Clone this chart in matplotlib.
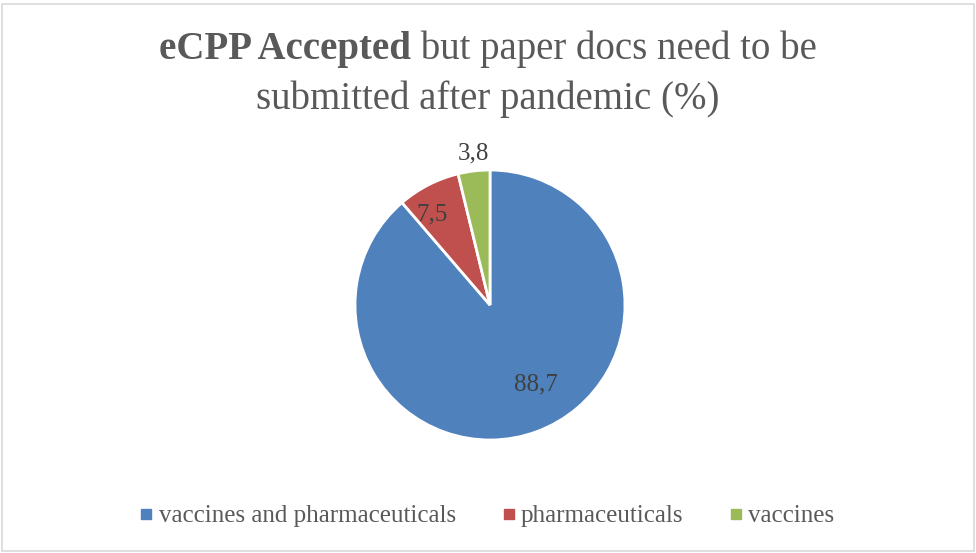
import numpy as np
import matplotlib.pyplot as plt
from matplotlib.lines import Line2D
from matplotlib.patches import Rectangle

# ---------- data ----------
categories = ["vaccines and pharmaceuticals", "pharmaceuticals", "vaccines"]
values = [88.7, 7.5, 3.8]
value_labels = ["88,7", "7,5", "3,8"]
colors = ["#4f81bd", "#c0504d", "#9bbb59"]
# data label positions (pie units), as Excel's "best fit" put them
label_pos = [(0.34, -0.59), (-0.43, 0.67), (-0.126, 1.126)]

title_bold = "eCPP Accepted"
title_rest = " but paper docs need to be"
title_line2 = "submitted after pandemic (%)"

plt.rcParams["font.family"] = ["Liberation Serif", "DejaVu Serif"]

W, H = 9.76, 5.53
fig = plt.figure(figsize=(W, H), dpi=100)
fig.patch.set_facecolor("white")

# light grey chart frame
fig.patches.append(
    Rectangle((2 / 976, 2 / 553), 972 / 976, 547 / 553, transform=fig.transFigure,
              fill=False, edgecolor="#d9d9d9", linewidth=1.2)
)

# pie: centre (490, 305) px, radius 135 px
r = 135
cx, cy = 490, 553 - 305
ax = fig.add_axes([(cx - r) / 976, (cy - r) / 553, 2 * r / 976, 2 * r / 553])
wedges, _ = ax.pie(
    values, colors=colors, startangle=90, counterclock=False,
    wedgeprops=dict(edgecolor="white", linewidth=2), radius=1,
)
ax.set_xlim(-1, 1)
ax.set_ylim(-1, 1)
ax.set_aspect("equal")
ax.axis("off")

for lab, (x, y) in zip(value_labels, label_pos):
    ax.text(x, y, lab, ha="center", va="center", fontsize=18,
            color="#404040", clip_on=False)

# title, first line mixed bold/regular
fig.canvas.draw()
rend = fig.canvas.get_renderer()
tsize = 28
y1 = 1 - 49 / 553
t1 = fig.text(0, y1, title_bold, fontsize=tsize, fontweight="bold", color="#595959", va="center")
t2 = fig.text(0, y1, title_rest, fontsize=tsize, color="#595959", va="center")
w1 = t1.get_window_extent(rend).width
w2 = t2.get_window_extent(rend).width
left = (976 * 0.5 - (w1 + w2) / 2) / 976
t1.set_x(left)
t2.set_x(left + w1 / 976)
fig.text(0.5, 1 - 99 / 553, title_line2, fontsize=tsize, color="#595959", ha="center", va="center")

# legend
handles = [Line2D([], [], marker="s", linestyle="none", markersize=7,
                  markerfacecolor=c, markeredgecolor=c) for c in colors]
fig.legend(handles, categories, loc="center", bbox_to_anchor=(0.5, 1 - 516 / 553),
           ncol=3, frameon=False, fontsize=18, labelcolor="#595959",
           handlelength=0.4, handletextpad=0.3, columnspacing=1.9)

fig.savefig("out.png", dpi=100, facecolor="white")
